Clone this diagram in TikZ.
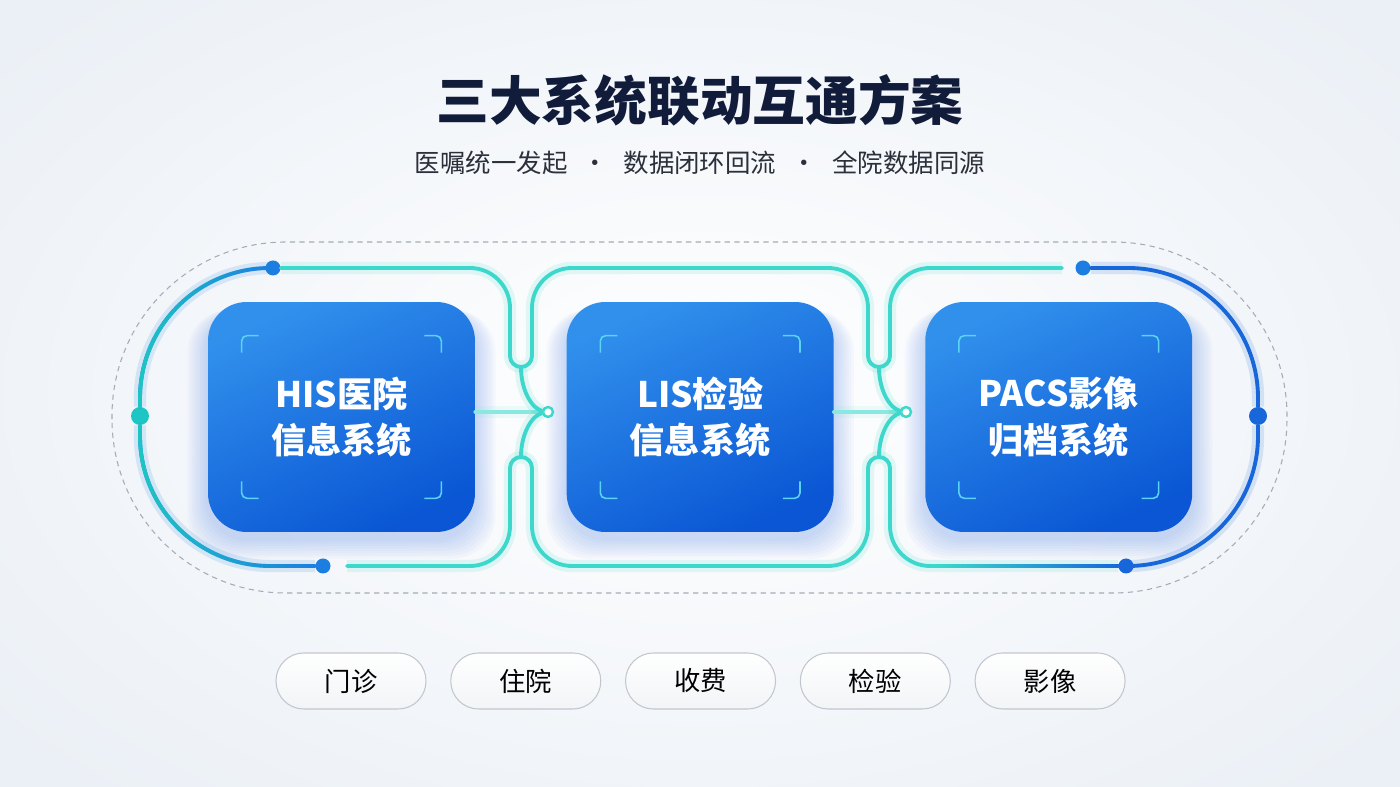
\documentclass[tikz,border=0pt]{standalone}
\usepackage{fontspec}
\setmainfont{Noto Sans CJK SC}
\usetikzlibrary{positioning,calc,fadings,backgrounds}
\definecolor{ink}{HTML}{111B3A}
\definecolor{subink}{HTML}{2B303B}
\definecolor{bgedge}{HTML}{EBF0F6}
\definecolor{boxtop}{HTML}{3190EC}
\definecolor{boxbot}{HTML}{0A56D4}
\definecolor{boxglow}{HTML}{2F6FE0}
\definecolor{flowteal}{HTML}{3DD8CB}
\definecolor{flowblue}{HTML}{1767DB}
\definecolor{dotblue}{HTML}{1C7EE0}
\definecolor{dotteal}{HTML}{1DC6C4}
\definecolor{corner}{HTML}{5AD4F2}
\definecolor{framec}{HTML}{A6ACB5}
\definecolor{pillline}{HTML}{C2C7CE}
\definecolor{pillbot}{HTML}{F2F4F7}
\tikzfading[name=fadeleft,left color=transparent!0,right color=transparent!100]
\tikzfading[name=faderight,left color=transparent!100,right color=transparent!0]

\begin{document}
\begin{tikzpicture}[x=0.02cm,y=0.02cm,node distance=1.82cm,
  sysbox/.style={rounded corners=22pt,minimum width=5.34cm,minimum height=4.6cm,
    top color=boxtop,bottom color=boxbot,shading angle=25,text=white,align=center,
    font=\fontsize{20}{26.5}\selectfont\bfseries},
  pill/.style={draw=pillline,line width=0.6pt,rounded corners=15.8pt,minimum width=3cm,
    minimum height=1.12cm,top color=white,bottom color=pillbot,text=black,
    font=\fontsize{15}{18}\selectfont},
  flowline/.style={draw=#1,line width=2.2pt,line cap=round,
    preaction={draw=#1,line width=7pt,draw opacity=.14}},
  bracket/.style={draw=corner,line width=0.9pt,rounded corners=3pt},
  dashframe/.style={draw=framec,line width=0.6pt,dash pattern=on 3pt off 2.5pt},
  dotb/.style={circle,fill=dotblue,minimum size=0.3cm,inner sep=0pt},
  dott/.style={circle,fill=dotteal,minimum size=0.36cm,inner sep=0pt},
  neck/.style={circle,fill=white,draw=flowteal,line width=1.4pt,minimum size=0.2cm,inner sep=0pt,
    preaction={fill=flowteal,fill opacity=.25,draw opacity=.25,line width=6pt}}]
\useasboundingbox (0,0) rectangle (1400,787);
\begin{scope}[on background layer]
  \fill[bgedge] (0,0) rectangle (1400,787);
  \shade[inner color=white,outer color=bgedge] (-200,-150) rectangle (1600,937);
\end{scope}

% title
\node[text=ink,font=\fontsize{30}{36}\selectfont\bfseries] (title) at (700,687) {三大系统联动互通方案};
\node[text=subink,font=\fontsize{14.5}{18}\selectfont] (sub) at (700,624)
  {医嘱统一发起\hspace{5.4pt} · \hspace{5.4pt}数据闭环回流\hspace{5.4pt} · \hspace{5.4pt}全院数据同源};

% dashed frame
\draw[dashframe,rounded corners=99pt] (112,194) rectangle (1287,545);

% the three systems
\node[sysbox] (his) at (341.5,370) {HIS医院\\信息系统};
\node[sysbox,right=of his] (lis) {LIS检验\\信息系统};
\node[sysbox,right=of lis] (pacs) {PACS影像\\归档系统};

\begin{scope}[on background layer]
  \foreach \b in {his,lis,pacs}
    \foreach \k in {1,...,8}
      \fill[boxglow,opacity=.03,rounded corners=24pt]
        ($(\b.north west)+(-\k*2.5,-8)$) rectangle ($(\b.south east)+(\k*2.5,-6-\k*2.5)$);
\end{scope}

\foreach \b in {his,lis,pacs}{
  \draw[bracket] ($(\b.north west)+(34,-51)$) |- ++(17,17);
  \draw[bracket] ($(\b.north east)+(-51,-34)$) -| ++(17,-17);
  \draw[bracket] ($(\b.south west)+(34,51)$) |- ++(17,-17);
  \draw[bracket] ($(\b.south east)+(-51,34)$) -| ++(17,17);
}

% dots
\node[dotb] (dtl) at (273,519) {};
\node[dott] (dl) at (140,371) {};
\node[dotb] (dbl) at (323,221) {};
\node[dotb] (dtr) at (1083,519) {};
\node[dotb,fill=flowblue,minimum size=0.36cm] (dr) at (1258,371) {};
\node[dotb,fill=flowblue] (dbr) at (1126,221) {};
\node[neck] (n1) at (548,375) {};
\node[neck] (n2) at (906,375) {};
\coordinate (topend) at (1062,519);
\coordinate (botstart) at (347,221);
\coordinate (u1) at (521,420);
\coordinate (l1) at (521,330);
\coordinate (u2) at (879,420);
\coordinate (l2) at (879,330);

% left loop
\draw[flowline=dotblue] (dtl) -- (270,519) arc(90:180:130) -- (dl);
\draw[flowline=dotblue] (dl) -- (140,351) arc(180:270:130) -- (dbl);
\draw[line width=2.2pt,line cap=round,dotteal,path fading=fadeleft] (dtl) -- (270,519) arc(90:180:130) -- (dl);
\draw[line width=2.2pt,line cap=round,dotteal,path fading=fadeleft] (dl) -- (140,351) arc(180:270:130) -- (dbl);

% right loop
\draw[flowline=flowblue] (dtr) -- (1128,519) arc(90:0:130) -- (dr);
\draw[flowline=flowblue] (dr) -- (1258,351) arc(0:-90:130) -- (dbr);

% top and bottom waves
\draw[flowline=flowteal] (dtl) -- (470,519) arc(90:0:40) -- (510,431) arc(180:360:11)
  -- (532,479) arc(180:90:40) -- (828,519) arc(90:0:40) -- (868,431) arc(180:360:11)
  -- (890,479) arc(180:90:40) -- (topend);
\draw[flowline=flowteal] (botstart) -- (470,221) arc(270:360:40) -- (510,319) arc(180:0:11)
  -- (532,261) arc(180:270:40) -- (828,221) arc(270:360:40) -- (868,319) arc(180:0:11)
  -- (890,261) arc(180:270:40) -- (dbr);
\draw[line width=2.2pt,line cap=round,flowblue,path fading=faderight] (940,221) -- (dbr);

% links into the next system
\draw[flowline=flowteal!60] (his.east |- n1) -- (n1);
\draw[flowline=flowteal!60] (lis.east |- n2) -- (n2);
\draw[flowline=flowteal] (u1) .. controls (521,395) and (533,378) .. (n1);
\draw[flowline=flowteal] (l1) .. controls (521,355) and (533,372) .. (n1);
\draw[flowline=flowteal] (u2) .. controls (879,395) and (891,378) .. (n2);
\draw[flowline=flowteal] (l2) .. controls (879,355) and (891,372) .. (n2);

% modules
\node[pill] (p1) at (351,106) {门诊};
\node[pill,right=0.475cm of p1] (p2) {住院};
\node[pill,right=0.475cm of p2] (p3) {收费};
\node[pill,right=0.475cm of p3] (p4) {检验};
\node[pill,right=0.475cm of p4] (p5) {影像};
\end{tikzpicture}
\end{document}
